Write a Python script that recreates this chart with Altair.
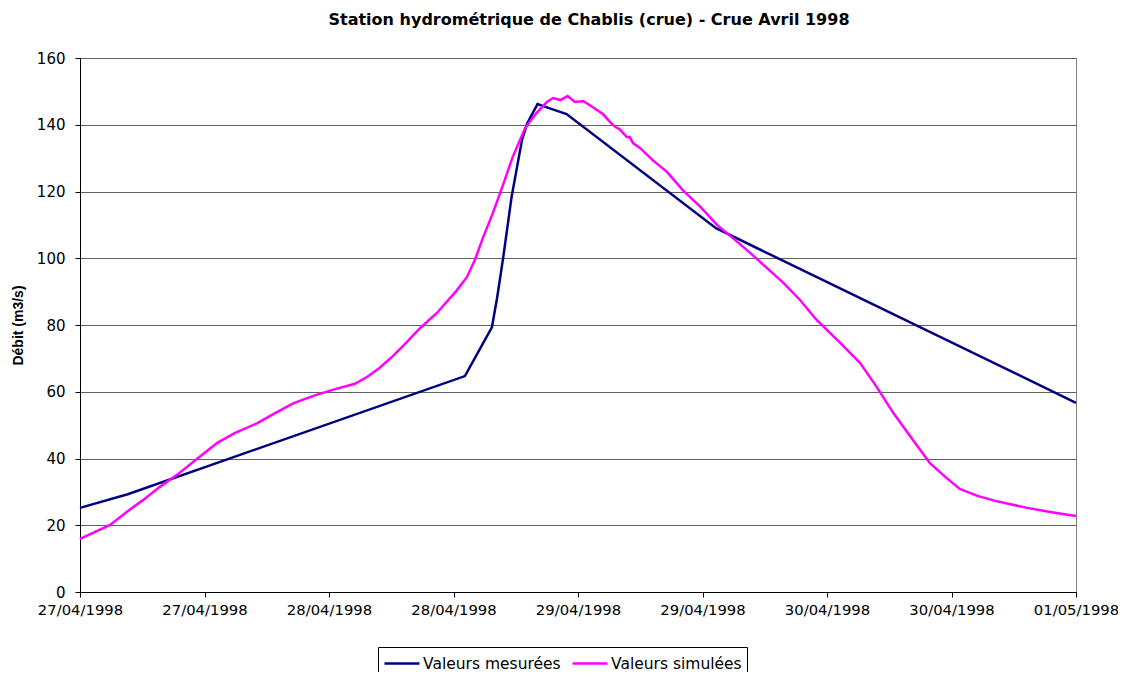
import altair as alt
import pandas as pd

# Measured series (hours since 27/04/1998 00:00, m3/s)
mes_hours = [0, 4.6, 37.1, 39.7, 40.2, 40.8, 41.6, 42.6, 43.1, 44.1, 45.0, 46.9, 61.3, 96]
mes_values = [25.2, 29.3, 64.7, 79.3, 88.1, 100.4, 118.4, 135.4, 140.4, 146.2, 145.2, 143.2, 109.0, 56.7]

# Simulated series
sim_hours = [0, 1.25, 2.9, 4.5, 6.1, 7.7, 9.35, 11.6, 13.2, 14.9, 17.1, 18.8, 20.6, 22.7,
             24.6, 26.5, 27.7, 28.9, 30.2, 31.1, 32.8, 34.4, 36.3, 37.3, 38.1, 38.8, 39.8,
             40.7, 41.7, 42.9, 44.0, 45.0, 45.6, 46.3, 47.0, 47.7, 48.5, 49.4, 50.4, 51.1,
             51.6, 52.0, 52.7, 53.0, 53.3, 54.0, 55.2, 56.6, 58.1, 59.8, 61.4, 62.9, 64.6,
             66.2, 67.8, 69.4, 71.0, 73.3, 75.2, 76.8, 78.4, 80.3, 81.9, 83.4, 84.8, 86.5,
             88.2, 91.3, 93.5, 96]
sim_values = [15.9, 17.7, 20.1, 24.0, 27.6, 31.5, 35.1, 40.7, 44.6, 47.6, 50.6, 53.6, 56.6, 59.0,
              60.8, 62.4, 64.5, 67.2, 70.8, 73.6, 79.1, 83.6, 90.3, 94.4, 99.8, 105.8, 113.6,
              121.3, 130.3, 139.0, 143.5, 146.8, 148.0, 147.4, 148.6, 146.8, 147.1, 145.3, 143.2, 140.8,
              139.3, 138.7, 136.3, 136.3, 134.5, 133.0, 129.4, 125.8, 120.4, 115.4, 110.0, 106.1, 101.6,
              97.1, 92.6, 87.5, 81.5, 74.6, 68.6, 61.4, 53.6, 45.5, 38.7, 34.5, 30.9, 28.8,
              27.3, 25.2, 24.0, 22.8]

tick_hours = [0, 12, 24, 36, 48, 60, 72, 84, 96]
tick_labels = ["27/04/1998", "27/04/1998", "28/04/1998", "28/04/1998", "29/04/1998",
               "29/04/1998", "30/04/1998", "30/04/1998", "01/05/1998"]
y_ticks = [0, 20, 40, 60, 80, 100, 120, 140, 160]

series_names = ["Valeurs mesurées", "Valeurs simulées"]
series_colors = ["#000080", "#FF00FF"]

df = pd.concat([
    pd.DataFrame({"h": mes_hours, "v": mes_values, "s": series_names[0], "o": range(len(mes_hours))}),
    pd.DataFrame({"h": sim_hours, "v": sim_values, "s": series_names[1], "o": range(len(sim_hours))}),
])

label_array = "[" + ",".join("'" + t + "'" for t in tick_labels) + "]"

FONT = "DejaVu Sans"

chart = alt.Chart(df).mark_line(strokeWidth=2.5).encode(
    x=alt.X("h:Q", scale=alt.Scale(domain=[0, 96], nice=False),
            axis=alt.Axis(values=tick_hours, title=None, grid=False,
                          labelExpr=label_array + "[round(datum.value/12)]",
                          labelFont=FONT, labelFontSize=14.8, labelColor="#000",
                          labelPadding=5, tickSize=5, tickColor="#000",
                          domainColor="#000", labelOverlap=False, labelFlush=False)),
    y=alt.Y("v:Q", scale=alt.Scale(domain=[0, 160], nice=False),
            axis=alt.Axis(values=y_ticks, title="Débit (m3/s)",
                          titleFont="Liberation Sans", titleFontSize=14, titleFontWeight="bold",
                          titleColor="#000", titleX=-62, titleY=267, titleAngle=270,
                          titleAlign="center", titleBaseline="middle",
                          labelFont=FONT, labelFontSize=15, labelColor="#000",
                          labelPadding=10, tickSize=5, tickColor="#000",
                          domainColor="#000", gridColor="#606060", gridWidth=1)),
    color=alt.Color("s:N", scale=alt.Scale(domain=series_names, range=series_colors),
                    legend=alt.Legend(title=None, orient="none", legendX=298, legendY=589,
                                      direction="horizontal", symbolType="M-1,0H2.5",
                                      symbolStrokeWidth=2.5, symbolSize=400,
                                      labelFont=FONT, labelFontSize=15.5, labelColor="#000",
                                      labelOffset=17, columnPadding=6, padding=5,
                                      strokeColor="#000", fillColor="#fff")),
    order="o:Q",
).properties(
    width=996, height=534,
    title=alt.TitleParams("Station hydrométrique de Chablis (crue) - Crue Avril 1998",
                          font=FONT, fontSize=16, fontWeight="bold", color="#000",
                          anchor="middle", offset=23, dx=11),
    autosize=alt.AutoSizeParams(type="none"),
    padding={"left": 72, "top": 50, "right": 42, "bottom": 80},
).configure_view(stroke="#808080", strokeWidth=1)

chart.save("out.html", embed_options={"renderer": "svg", "actions": False})
